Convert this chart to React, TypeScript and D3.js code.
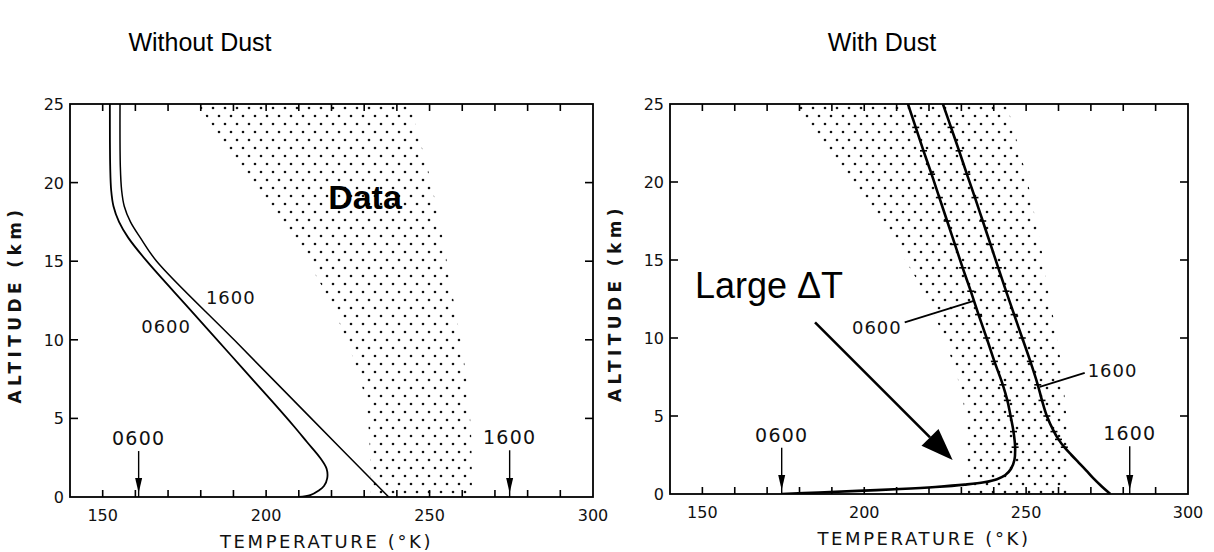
import React from "react";
import * as d3 from "d3";

// ---------- data ----------
const xDomain = [140, 300];
const yDomain = [0, 25];
const xLabelTicks = [150, 200, 250, 300];
const xMarkTicks = [150, 160, 170, 180, 190, 200, 210, 220, 230, 240, 250, 260, 270, 280, 290];
const yTicks = [0, 5, 10, 15, 20, 25];

// observed data band (shaded)
const bandAlt = [0, 4, 6, 8, 10, 12, 14, 16, 18, 20, 22, 25];
const bandCold = [232, 231.5, 230.5, 228, 224.5, 220.5, 215.5, 209.5, 203, 196, 189, 179];
const bandWarm = [263, 262.7, 262, 261, 259.5, 257.8, 256, 254.5, 252.5, 250.5, 248, 244];

// without dust
const noDust0600Alt = [0, 0.12, 0.4, 0.7, 1.2, 1.8, 2.5, 3.5, 4.5, 6, 9, 12, 15, 16.5, 17.5, 18.5, 19.5, 21, 25];
const noDust0600T = [210, 213.5, 216, 217.7, 218.7, 218.5, 216.5, 212.5, 208.5, 202.2, 189.3, 176.4, 163.5, 157.8, 155, 153.3, 152.6, 152.3, 152.2];
const noDust1600Alt = [0, 5, 10, 15, 16.5, 17.5, 18.5, 19.5, 21, 25];
const noDust1600T = [237.5, 213.8, 190.2, 166.5, 161.5, 158.5, 156.6, 155.8, 155.4, 155.3];

// with dust
const dust0600Alt = [0, 0.1, 0.2, 0.32, 0.45, 0.6, 0.75, 0.95, 1.2, 1.6, 2.2, 3, 4, 5, 6, 7, 8.5, 10, 11.5, 13, 14.5, 16, 17.5, 19, 20.5, 22, 23.5, 25];
const dust0600T = [174.5, 186, 198, 211, 222, 231, 237, 241, 243.5, 245.3, 246.4, 246.6, 246.1, 245.2, 244.2, 242.8, 240.2, 237.8, 235.3, 232.9, 230.4, 228, 225.6, 223.2, 220.8, 218.3, 215.9, 213.5];
const dust1600Alt = [0, 0.5, 1, 1.5, 2, 2.5, 3, 3.5, 4, 5, 6, 7, 8.5, 10, 11.5, 13, 14.5, 16, 17.5, 19, 20.5, 22, 23.5, 25];
const dust1600T = [276, 273.3, 270.8, 268.6, 266.3, 264, 261.8, 260, 258.6, 256.4, 254.9, 253.6, 251.3, 248.8, 246.3, 243.8, 241.4, 239, 236.6, 234.2, 231.7, 229.3, 226.8, 224.3];

// surface temperatures (arrows)
const noDustSurface = [{ label: "0600", T: 161, z: 3.75 }, { label: "1600", T: 274.5, z: 3.8 }];
const dustSurface = [{ label: "0600", T: 174.5, z: 3.8 }, { label: "1600", T: 282, z: 3.9 }];

const FONT = "'DejaVu Sans', sans-serif";
const ARIAL = "'Liberation Sans', Arial, sans-serif";

type PanelProps = {
  left: number; right: number; top: number; bottom: number;
  children: (x: d3.ScaleLinear<number, number>, y: d3.ScaleLinear<number, number>) => React.ReactNode;
};

function Panel({ left, right, top, bottom, children }: PanelProps) {
  const x = d3.scaleLinear().domain(xDomain).range([left, right]);
  const y = d3.scaleLinear().domain(yDomain).range([bottom, top]);
  const id = `clip${left}`;
  return (
    <g>
      <defs>
        <clipPath id={id}>
          <rect x={left} y={top} width={right - left} height={bottom - top} />
        </clipPath>
      </defs>
      <g clipPath={`url(#${id})`}>{children(x, y)}</g>
      <rect x={left} y={top} width={right - left} height={bottom - top} fill="none" stroke="#000" strokeWidth={1.8} />
      {xMarkTicks.map((t) => (
        <g key={t}>
          <line x1={x(t)} x2={x(t)} y1={bottom} y2={bottom - 7} stroke="#000" strokeWidth={1.6} />
          <line x1={x(t)} x2={x(t)} y1={top} y2={top + 7} stroke="#000" strokeWidth={1.6} />
        </g>
      ))}
      {xLabelTicks.map((t) => (
        <text key={t} x={x(t)} y={bottom + 24} textAnchor="middle" fontFamily={FONT} fontSize={16} fill="#111">
          {t}
        </text>
      ))}
      {yTicks.map((t) => (
        <g key={t}>
          {t > 0 && t < 25 && (
            <>
              <line x1={left} x2={left + 8} y1={y(t)} y2={y(t)} stroke="#000" strokeWidth={1.6} />
              <line x1={right} x2={right - 8} y1={y(t)} y2={y(t)} stroke="#000" strokeWidth={1.6} />
            </>
          )}
          <text x={left - 6} y={y(t) + 6} textAnchor="end" fontFamily={FONT} fontSize={16} fill="#111">
            {t}
          </text>
        </g>
      ))}
      <text x={(left + right) / 2 - 5} y={bottom + 51} textAnchor="middle" fontFamily={FONT} fontSize={18} letterSpacing={2.6} fill="#111">
        TEMPERATURE  (°K)
      </text>
      <text
        transform={`translate(${left - 49},${(top + bottom) / 2 + 4}) rotate(-90)`}
        textAnchor="middle"
        fontFamily={FONT}
        fontSize={17}
        fontWeight="bold"
        letterSpacing={4.4}
        fill="#111"
      >
        ALTITUDE  (km)
      </text>
    </g>
  );
}

function zip(alt: number[], t: number[]): [number, number][] {
  return alt.map((a, i) => [t[i], a]);
}

function bandPath(x: any, y: any) {
  const pts = bandAlt.map((a, i) => ({ a, c: bandCold[i], w: bandWarm[i] }));
  return d3
    .area<any>()
    .y((d) => y(d.a))
    .x0((d) => x(d.c))
    .x1((d) => x(d.w))
    .curve(d3.curveCatmullRom.alpha(0.5))(pts) as string;
}

function curvePath(x: any, y: any, alt: number[], t: number[]) {
  return d3
    .line<[number, number]>()
    .x((d) => x(d[0]))
    .y((d) => y(d[1]))
    .curve(d3.curveCatmullRom.alpha(0.5))(zip(alt, t)) as string;
}

function SurfaceArrow({ x, y, T, z, label }: any) {
  const px = x(T);
  const y0 = y(z) + 13;
  const yb = y(0);
  return (
    <g>
      <text x={px} y={y(z) + 7} textAnchor="middle" fontFamily={FONT} fontSize={19} letterSpacing={1.2} fill="#111">
        {label}
      </text>
      <line x1={px} x2={px} y1={y0} y2={yb} stroke="#000" strokeWidth={1.4} />
      <path d={`M${px - 3.5},${yb - 19} L${px + 3.5},${yb - 19} L${px},${yb - 4} Z`} fill="#000" />
    </g>
  );
}

export default function App() {
  return (
    <svg width={1214} height={552} style={{ position: "absolute", left: 0, top: 0, background: "#fff" }}>
      <defs>
        <pattern id="stipple" patternUnits="userSpaceOnUse" width={12} height={16}>
          <circle cx={3} cy={4} r={1.3} fill="#111" />
          <circle cx={9} cy={12} r={1.3} fill="#111" />
        </pattern>
      </defs>
      <rect x={0} y={0} width={1214} height={552} fill="#fff" />

      <text x={200} y={51} textAnchor="middle" fontFamily={ARIAL} fontSize={25} fill="#000">
        Without Dust
      </text>
      <text x={882} y={51} textAnchor="middle" fontFamily={ARIAL} fontSize={25} fill="#000">
        With Dust
      </text>

      {/* Left panel: without dust */}
      <Panel left={70} right={593} top={104} bottom={497}>
        {(x, y) => (
          <g>
            <path d={bandPath(x, y)} fill="url(#stipple)" />
            <path d={curvePath(x, y, noDust0600Alt, noDust0600T)} fill="none" stroke="#000" strokeWidth={1.8} />
            <path d={curvePath(x, y, noDust1600Alt, noDust1600T)} fill="none" stroke="#000" strokeWidth={1.5} />
            <text x={x(189.2)} y={y(12.7) + 7} textAnchor="middle" fontFamily={FONT} fontSize={18} letterSpacing={1} fill="#111">
              1600
            </text>
            <text x={x(169.4)} y={y(10.9) + 7} textAnchor="middle" fontFamily={FONT} fontSize={18} letterSpacing={1} fill="#111">
              0600
            </text>
            <text x={365} y={209} textAnchor="middle" fontFamily={ARIAL} fontWeight="bold" fontSize={34} fill="#000">
              Data
            </text>
            {noDustSurface.map((s) => (
              <SurfaceArrow key={s.label} x={x} y={y} {...s} />
            ))}
          </g>
        )}
      </Panel>

      {/* Right panel: with dust */}
      <Panel left={670} right={1188} top={104} bottom={494}>
        {(x, y) => (
          <g>
            <path d={bandPath(x, y)} fill="url(#stipple)" />
            <path d={curvePath(x, y, dust0600Alt, dust0600T)} fill="none" stroke="#000" strokeWidth={2.6} />
            <path d={curvePath(x, y, dust1600Alt, dust1600T)} fill="none" stroke="#000" strokeWidth={2.6} />
            {dust0600Alt.map((a, i) =>
              a >= 3 && a < 25 ? (
                <line key={"m6" + i} x1={x(dust0600T[i]) - 3.5} x2={x(dust0600T[i]) + 3.5} y1={y(a)} y2={y(a)} stroke="#000" strokeWidth={1.6} />
              ) : null
            )}
            {dust1600Alt.map((a, i) =>
              a >= 3 && a < 25 ? (
                <line key={"m16" + i} x1={x(dust1600T[i]) - 3.5} x2={x(dust1600T[i]) + 3.5} y1={y(a)} y2={y(a)} stroke="#000" strokeWidth={1.6} />
              ) : null
            )}
            {/* leader lines */}
            <line x1={x(212.5)} y1={y(11.0)} x2={x(234.1)} y2={y(12.4)} stroke="#000" strokeWidth={1.8} />
            <text x={x(203.9)} y={y(10.7) + 7} textAnchor="middle" fontFamily={FONT} fontSize={18} letterSpacing={1} fill="#111">
              0600
            </text>
            <line x1={x(268.1)} y1={y(7.76)} x2={x(254.2)} y2={y(6.86)} stroke="#000" strokeWidth={1.8} />
            <text x={x(276.7)} y={y(7.95) + 7} textAnchor="middle" fontFamily={FONT} fontSize={18} letterSpacing={1} fill="#111">
              1600
            </text>
            {dustSurface.map((s) => (
              <SurfaceArrow key={s.label} x={x} y={y} {...s} />
            ))}
            {(() => {
              const x1 = x(184.8), y1 = y(11.0), x2 = x(227.3), y2 = y(2.18);
              const ang = Math.atan2(y2 - y1, x2 - x1);
              const L = 32, W = 12;
              const bx = x2 - L * Math.cos(ang), by = y2 - L * Math.sin(ang);
              const px = -Math.sin(ang) * W, py = Math.cos(ang) * W;
              return (
                <g>
                  <line x1={x1} y1={y1} x2={bx} y2={by} stroke="#000" strokeWidth={2.6} />
                  <path d={`M${x2},${y2} L${bx + px},${by + py} L${bx - px},${by - py} Z`} fill="#000" />
                </g>
              );
            })()}
          </g>
        )}
      </Panel>
      <text x={695} y={298} fontFamily={ARIAL} fontSize={36} fill="#000">
        Large ΔT
      </text>
    </svg>
  );
}
